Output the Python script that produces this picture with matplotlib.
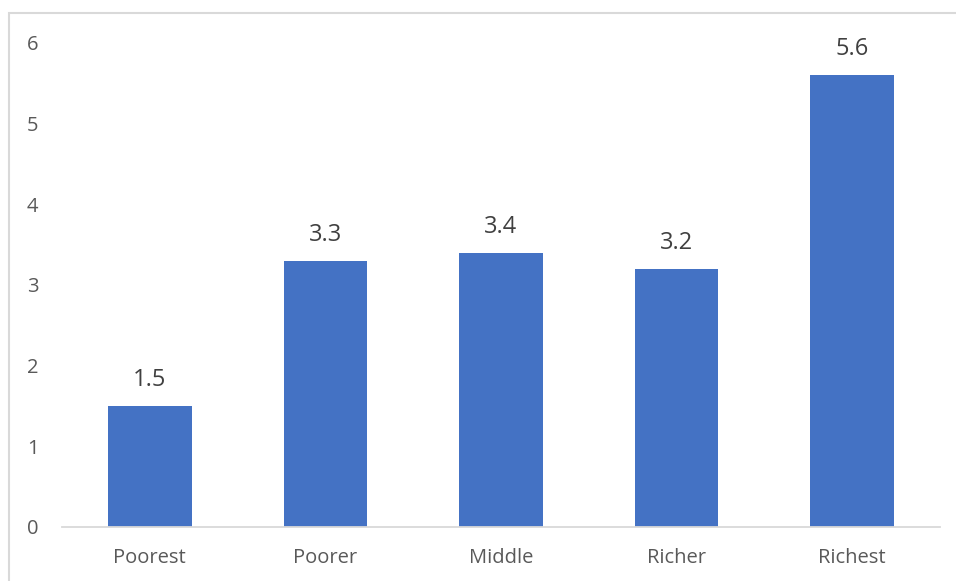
import matplotlib.pyplot as plt
from matplotlib.patches import Rectangle

categories = ['Poorest', 'Poorer', 'Middle', 'Richer', 'Richest']
values = [1.5, 3.3, 3.4, 3.2, 5.6]
yticks = [0, 1, 2, 3, 4, 5, 6]

plt.rcParams['font.family'] = ['Open Sans', 'DejaVu Sans']

fig = plt.figure(figsize=(9.56, 5.81), dpi=100)
ax = fig.add_axes([62 / 956, 1 - 527 / 581, 878 / 956, 484 / 581])

# outer chart border, running off the right and bottom edges
fig.patches.append(Rectangle((9 / 956, -0.1), 1.2, 1 - 13 / 581 + 0.1,
                             transform=fig.transFigure, fill=False,
                             edgecolor='#d9d9d9', linewidth=1.5))

x = range(len(categories))
rects = ax.bar(x, values, width=0.477, color='#4472c4')
for rect, v in zip(rects, values):
    ax.annotate('%.1f' % v, (rect.get_x() + rect.get_width() / 2, v),
                xytext=(0, 14.5), textcoords='offset points',
                ha='center', va='baseline', fontsize=17, color='#404040')

ax.set_xlim(-0.5, len(categories) - 0.5)
ax.set_ylim(0, 6)
ax.set_xticks(list(x), categories)
ax.set_yticks(yticks)
ax.tick_params(axis='both', length=0, labelsize=14.5, labelcolor='#595959')
ax.tick_params(axis='y', pad=17)
ax.tick_params(axis='x', pad=15)
for side in ['top', 'right', 'left']:
    ax.spines[side].set_visible(False)
ax.spines['bottom'].set_color('#d9d9d9')
ax.spines['bottom'].set_linewidth(1.3)

fig.savefig('out.png', dpi=100)
